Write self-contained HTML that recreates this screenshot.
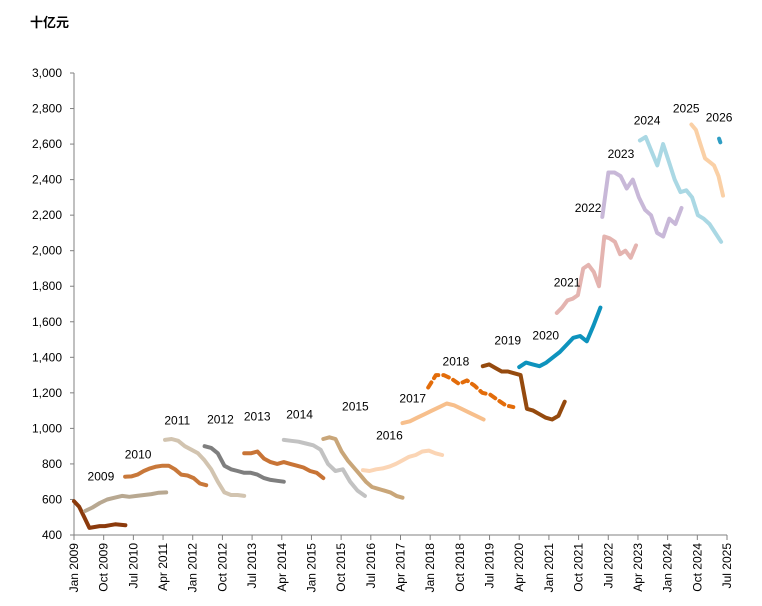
<!DOCTYPE html>
<html><head><meta charset="utf-8">
<style>
html,body{margin:0;padding:0;background:#fff;}
svg{display:block;font-family:"Liberation Sans","Noto Sans CJK SC",sans-serif;}
</style></head>
<body>
<svg id="chart" width="762" height="606" viewBox="0 0 762 606" xmlns="http://www.w3.org/2000/svg">
<text x="30" y="27" font-size="13" font-weight="bold">十亿元</text>
<g id="axes"></g>
<g id="series"></g>
<g id="labels"></g>
</svg>
<script>
const yTicks=[400,600,800,1000,1200,1400,1600,1800,2000,2200,2400,2600,2800,3000];
const xTickLabels=["Jan 2009","Oct 2009","Jul 2010","Apr 2011","Jan 2012","Oct 2012","Jul 2013","Apr 2014","Jan 2015","Oct 2015","Jul 2016","Apr 2017","Jan 2018","Oct 2018","Jul 2019","Apr 2020","Jan 2021","Oct 2021","Jul 2022","Apr 2023","Jan 2024","Oct 2024","Jul 2025"];
const seriesNames=["2009","2010","2011","2012","2013","2014","2015","2016","2017","2018","2019","2020","2021","2022","2023","2024","2025","2026"];
const seriesStart=[2009.0,2009.28,2010.29,2011.3,2012.3,2013.3,2014.3,2015.3,2016.3,2017.3,2017.95,2019.33,2020.25,2021.2,2022.35,2023.3,2024.6,2025.3];
const seriesEnd=[2010.3,2011.33,2012.34,2013.3,2014.3,2015.3,2016.35,2017.3,2018.3,2019.35,2020.1,2021.4,2022.3,2023.2,2024.35,2025.35,2025.4,2025.33];
const v0=[590,560,500,440,445,450,450,455,460,458,455];
const v1=[535,555,580,600,610,620,615,620,625,630,638,640];
const v2=[728,730,740,760,775,785,790,790,770,740,735,720,690,680];
const v3=[935,940,930,900,880,860,820,770,700,640,625,625,620];
const v4=[900,890,860,790,770,760,750,750,740,720,710,705,700];
const v5=[860,860,870,830,810,800,810,800,790,780,760,750,720];
const v6=[935,930,925,915,905,880,800,760,770,700,650,620];
const v7=[940,950,940,870,820,780,740,700,670,660,650,640,620,610];
const v8=[765,760,770,775,785,800,820,840,850,870,875,860,850];
const v9=[1030,1040,1060,1080,1100,1120,1140,1130,1110,1090,1070,1050];
const v10=[1230,1300,1300,1280,1250,1270,1240,1200,1190,1160,1130,1120];
const v11=[1350,1360,1340,1320,1320,1310,1300,1110,1100,1080,1060,1050,1070,1150];
const v12=[1345,1370,1360,1350,1370,1400,1430,1470,1510,1520,1490,1580,1680];
const v13=[1650,1680,1720,1730,1750,1900,1920,1880,1800,2080,2070,2050,1980,2000,1960,2030];
const v14=[2190,2440,2440,2420,2350,2400,2300,2230,2200,2100,2080,2180,2150,2240];
const v15=[2620,2640,2560,2480,2600,2500,2400,2330,2340,2300,2200,2180,2150,2100,2050];
const v16=[2710,2680,2600,2520,2500,2480,2420,2310];
const v17=[2630,2610];
const seriesValues=[v0,v1,v2,v3,v4,v5,v6,v7,v8,v9,v10,v11,v12,v13,v14,v15,v16,v17];
const labelT=[2009.68,2010.62,2011.61,2012.70,2013.63,2014.70,2016.11,2016.97,2017.56,2018.65,2019.96,2020.92,2021.46,2021.99,2022.82,2023.48,2024.47,2025.30];
const labelV=[730,854,1045,1051,1068,1079,1124,960,1169,1377,1495,1523,1822,2239,2543,2734,2801,2750];
const labelText=["2009","2010","2011","2012","2013","2014","2015","2016","2017","2018","2019","2020","2021","2022","2023","2024","2025","2026"];
const colors=["#8b3a0c","#b8a891","#c8783a","#d2c4b0","#7f7f7f","#c87436","#c2c2c2","#c9a679","#fbd5b5","#f7bf8c","#e36c0a","#954a0e","#0e93bd","#e4b4b0","#c8b8d8","#aad8e4","#fad0a6","#2f9ec4"];
const NS="http://www.w3.org/2000/svg";
const L=74,R=727,T=73,B=535,T0=2009,T1=2025.5;
function xs(t){return L+(t-T0)*(R-L)/(T1-T0);}
function ys(v){return B-(v-400)*(B-T)/2600;}
function mk(tag,attrs,parent){const e=document.createElementNS(NS,tag);for(const k in attrs)e.setAttribute(k,attrs[k]);parent.appendChild(e);return e;}
const axes=document.getElementById('axes');
let a=mk('line',{x1:L,y1:T,x2:L,y2:B,stroke:'#808080','stroke-width':1},axes);


a=mk('line',{x1:L,y1:B,x2:R,y2:B,stroke:'#808080','stroke-width':1},axes);


yTicks.forEach(v=>{
  const y=ys(v);
  const tk=mk('line',{x1:L-4,y1:y,x2:L,y2:y,stroke:'#808080'},axes);
  
  
  const tx=mk('text',{x:L-12,y:y+4,'font-size':12,'text-anchor':'end',fill:'#000'},axes);
  tx.textContent=v.toLocaleString('en-US');
  
  
});
xTickLabels.forEach((s,i)=>{
  const x=xs(T0+i*0.75);
  const tk=mk('line',{x1:x,y1:B,x2:x,y2:B+5,stroke:'#808080'},axes);
  
  
  const tx=mk('text',{x:0,y:0,'font-size':12,'text-anchor':'end',transform:`translate(${x+4},${B+8}) rotate(-90)`},axes);
  tx.textContent=s;
  
  
});
const sg=document.getElementById('series');
seriesValues.forEach((vals,i)=>{
  const n=vals.length;
  const pts=vals.map((v,j)=>{const t=seriesStart[i]+(n>1?j*(seriesEnd[i]-seriesStart[i])/(n-1):0);return xs(t).toFixed(1)+','+ys(v).toFixed(1);}).join(' ');
  const p=mk('polyline',{points:pts,fill:'none',stroke:colors[i],'stroke-width':4,'stroke-linejoin':'round','stroke-linecap':'round'},sg);
  if(i===10)p.setAttribute('stroke-dasharray','6,5');
  
  
});
const lg=document.getElementById('labels');
labelText.forEach((s,i)=>{
  const tx=mk('text',{x:xs(labelT[i]),y:ys(labelV[i])+4,'font-size':12,'text-anchor':'middle',fill:'#000'},lg);
  tx.textContent=s;
  
  
});
</script>
</body></html>
